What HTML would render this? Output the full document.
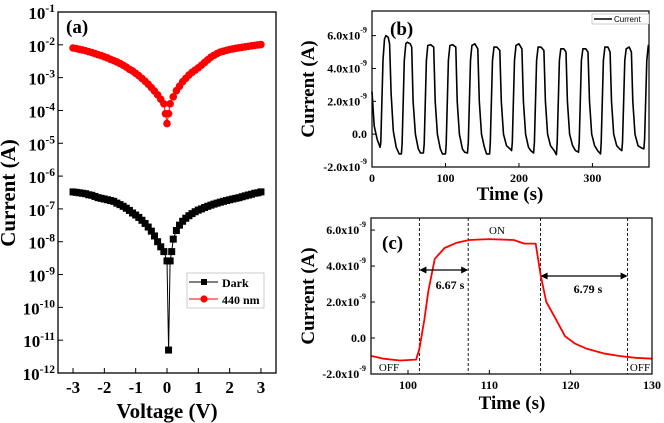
<!DOCTYPE html>
<html><head><meta charset="utf-8"><style>
html,body{margin:0;padding:0;background:#fff;}
svg{display:block;font-family:"Liberation Serif",serif;}
.tl{font-size:17px;font-weight:bold;}
.ts{font-size:12px;font-weight:bold;}
.tt{font-size:19px;font-weight:bold;}
.ta{font-size:21px;font-weight:bold;}
</style></head><body>
<svg id="fig" width="664" height="423" viewBox="0 0 664 423"></svg>
<script>
// ---- Panel (a) data ----
const darkV=[-3,-2.9,-2.8,-2.7,-2.6,-2.5,-2.4,-2.3,-2.2,-2.1,-2,-1.9,-1.8,-1.7,-1.6,-1.5,-1.4,-1.3,-1.2,-1.1,-1,-0.9,-0.8,-0.7,-0.6,-0.5,-0.4,-0.3,-0.2,-0.1,0,0.05,0.1,0.15,0.2,0.3,0.4,0.5,0.6,0.7,0.8,0.9,1,1.1,1.2,1.3,1.4,1.5,1.6,1.7,1.8,1.9,2,2.1,2.2,2.3,2.4,2.5,2.6,2.7,2.8,2.9,3];
const darkI=[3.3e-7,3.2e-7,3.1e-7,3.0e-7,2.9e-7,2.7e-7,2.6e-7,2.4e-7,2.2e-7,2.1e-7,2.0e-7,1.9e-7,1.8e-7,1.7e-7,1.5e-7,1.35e-7,1.2e-7,1.05e-7,9e-8,7.5e-8,6.5e-8,5.5e-8,4.5e-8,3.6e-8,2.8e-8,2.1e-8,1.5e-8,1.0e-8,7e-9,5e-9,2.6e-9,5e-12,2.6e-9,5e-9,1.2e-8,2.2e-8,3.2e-8,4.2e-8,5.2e-8,6.2e-8,7.2e-8,8.2e-8,9.2e-8,1.0e-7,1.1e-7,1.2e-7,1.3e-7,1.4e-7,1.5e-7,1.6e-7,1.7e-7,1.8e-7,1.9e-7,2.0e-7,2.1e-7,2.2e-7,2.35e-7,2.5e-7,2.65e-7,2.8e-7,3.0e-7,3.1e-7,3.3e-7];
const lightV=[-3,-2.9,-2.8,-2.7,-2.6,-2.5,-2.4,-2.3,-2.2,-2.1,-2,-1.9,-1.8,-1.7,-1.6,-1.5,-1.4,-1.3,-1.2,-1.1,-1,-0.9,-0.8,-0.7,-0.6,-0.5,-0.4,-0.3,-0.2,-0.1,-0.05,0,0.05,0.1,0.2,0.3,0.4,0.5,0.6,0.7,0.8,0.9,1,1.1,1.2,1.3,1.4,1.5,1.6,1.7,1.8,1.9,2,2.1,2.2,2.3,2.4,2.5,2.6,2.7,2.8,2.9,3];
const lightI=[8.0e-3,7.7e-3,7.3e-3,7.0e-3,6.6e-3,6.2e-3,5.8e-3,5.4e-3,5.0e-3,4.7e-3,4.3e-3,4.0e-3,3.6e-3,3.3e-3,3.0e-3,2.7e-3,2.4e-3,2.1e-3,1.8e-3,1.6e-3,1.35e-3,1.15e-3,9.5e-4,7.8e-4,6.3e-4,5.0e-4,3.9e-4,3.0e-4,2.2e-4,1.6e-4,8e-5,4e-5,8e-5,1.6e-4,2.6e-4,4.0e-4,5.5e-4,7.5e-4,9.5e-4,1.2e-3,1.45e-3,1.7e-3,2.0e-3,2.4e-3,2.9e-3,3.5e-3,4.2e-3,4.8e-3,5.4e-3,6.0e-3,6.4e-3,6.8e-3,7.2e-3,7.5e-3,7.8e-3,8.1e-3,8.4e-3,8.7e-3,9.0e-3,9.3e-3,9.6e-3,9.9e-3,1.02e-2];
const aXTicks=[-3,-2,-1,0,1,2,3];
const aYExps=[-1,-2,-3,-4,-5,-6,-7,-8,-9,-10,-11,-12];
// ---- Panel (b) data ----
const bT=[0,3,7,11,12,15,17,19,22,24,26,29,33,37,40,41,44,46,48,52,54,56,59,63,66,70,71,74,76,80,84,86,89,93,96,100,101,104,106,110,114,116,119,123,126,130,131,134,136,140,144,146,149,153,156,160,161,164,166,170,174,176,179,183,188,190,191,194,196,200,204,206,209,213,216,220,221,224,226,230,234,236,239,243,248,251,252,255,257,261,264,266,269,273,277,281,282,285,287,291,294,296,299,303,307,311,312,315,317,321,324,326,329,333,337,340,341,344,346,350,353,355,358,362,367,370,371,374,376,377];
const bI=[2.6,0.5,-0.3,-0.8,-0.5,4.5,5.8,6.0,5.9,5.5,2.5,0.2,-0.8,-1.2,-1.2,-0.6,4.5,5.5,5.6,5.5,5.3,2.0,0.0,-0.9,-1.15,-1.15,-0.6,4.5,5.4,5.45,5.3,2.0,0.0,-0.9,-1.2,-1.2,-0.6,4.5,5.4,5.45,5.3,2.0,0.0,-0.9,-1.1,-1.15,-0.5,4.5,5.4,5.5,5.2,2.0,0.0,-0.8,-1.2,-1.2,-0.5,4.5,5.3,5.3,5.1,2.0,0.0,-0.7,-0.9,-1.0,-0.5,4.5,5.4,5.5,5.2,2.0,0.0,-0.8,-1.0,-1.15,-0.5,4.5,5.3,5.3,5.1,2.0,0.0,-0.7,-1.0,-1.25,-0.5,4.5,5.2,5.2,5.0,2.0,0.0,-0.7,-1.0,-1.1,-0.5,4.5,5.2,5.2,5.0,2.0,0.0,-0.7,-1.0,-1.2,-0.5,4.5,5.3,5.3,5.0,2.0,0.0,-0.7,-0.9,-1.0,-0.5,4.5,5.2,5.3,5.0,2.0,0.0,-0.7,-0.85,-0.9,-0.3,4.5,5.4,5.4];
const bXTicks=[0,100,200,300];
const bYTicks=[6,4,2,0,-2];
const bYLabels=["6.0x10","4.0x10","2.0x10","0.0","-2.0x10"];
// ---- Panel (c) data ----
const cT=[95.5,97,99,101,101.4,102,102.5,103.3,104.5,106,107.5,110,113,114.3,115.7,116.3,117,118,119.3,120.5,122,124,126,128,130];
const cI=[-1.0,-1.15,-1.25,-1.2,-0.6,1.0,2.6,4.4,5.0,5.3,5.45,5.5,5.45,5.25,5.25,3.5,2.0,1.2,0.1,-0.3,-0.6,-0.85,-1.0,-1.1,-1.15];
const cDash=[101.4,107.4,116.3,127];
const cXTicks=[100,110,120,130];
const cYTicks=[6,4,2,0,-2];
const cYLabels=["6.0x10","4.0x10","2.0x10","0.0","-2.0x10"];

const NS="http://www.w3.org/2000/svg";
const svg=document.getElementById('fig');
function el(tag,attrs,parent){const e=document.createElementNS(NS,tag);for(const k in attrs)e.setAttribute(k,attrs[k]);(parent||svg).appendChild(e);return e;}
function txt(x,y,s,cls,anchor,parent){const t=el('text',{x:x,y:y,'class':cls,'text-anchor':anchor||'middle'},parent);t.textContent=s;return t;}
function sup(x,y,base,exp,cls,anchor,parent){const t=el('text',{x:x,y:y,'class':cls,'text-anchor':anchor||'end'},parent);t.appendChild(document.createTextNode(base));const s=document.createElementNS(NS,'tspan');s.setAttribute('dy','-7');s.setAttribute('font-size','0.68em');s.textContent=exp;t.appendChild(s);return t;}

// ===== Panel A =====
const gA=el('g',{});


const A={x0:58,x1:276,y0:12,y1:373,vmin:-3.48,vmax:3.48,emax:-1,emin:-12};
const ax=v=>A.x0+(v-A.vmin)/(A.vmax-A.vmin)*(A.x1-A.x0);
const ay=i=>A.y0+(A.emax-Math.log10(i))/(A.emax-A.emin)*(A.y1-A.y0);
aYExps.forEach(e=>{const y=ay(Math.pow(10,e));el('line',{x1:A.x0,x2:A.x0+5,y1:y,y2:y,stroke:'#000','stroke-width':1},gA);
  const t=sup(A.x0-3,y+7,'10',String(e),'tl','end',gA);});
aXTicks.forEach(v=>{const x=ax(v);el('line',{x1:x,x2:x,y1:A.y1,y2:A.y1-5,stroke:'#000'},gA);
  const t=txt(x,393,String(v),'tl','middle',gA);});
let d='';darkV.forEach((v,i)=>{d+=(i?'L':'M')+ax(v).toFixed(1)+','+ay(darkI[i]).toFixed(1);});
const dl=el('path',{d:d,fill:'none',stroke:'#000','stroke-width':1},gA);

darkV.forEach((v,i)=>{const r=el('rect',{x:ax(v)-3.5,y:ay(darkI[i])-3.5,width:7,height:7,fill:'#000'},gA);
  });
let d2='';lightV.forEach((v,i)=>{d2+=(i?'L':'M')+ax(v).toFixed(1)+','+ay(lightI[i]).toFixed(1);});
const ll=el('path',{d:d2,fill:'none',stroke:'#f00','stroke-width':1},gA);

lightV.forEach((v,i)=>{const c=el('circle',{cx:ax(v),cy:ay(lightI[i]),r:3.8,fill:'#f00'},gA);
  });
el('rect',{x:A.x0,y:A.y0,width:A.x1-A.x0,height:A.y1-A.y0,fill:'none',stroke:'#000','stroke-width':1.3},gA);
txt(66,33,'(a)','tt','start',gA);
const aty=txt(0,0,'Current (A)','ta','middle',gA);aty.setAttribute('transform','translate(15,193) rotate(-90)');

const atx=txt(167,418,'Voltage (V)','ta','middle',gA);
const lg=el('g',{},gA);
el('rect',{x:187,y:273,width:77,height:35,fill:'#fff',stroke:'#aaa','stroke-width':0.6},lg);
el('line',{x1:189,x2:218,y1:282,y2:282,stroke:'#000'},lg);el('rect',{x:201,y:279,width:6,height:6,fill:'#000'},lg);
el('line',{x1:189,x2:218,y1:299,y2:299,stroke:'#f00'},lg);el('circle',{cx:204,cy:299,r:3.6,fill:'#f00'},lg);
const le1=txt(222,287,'Dark','ts','start',lg);
const le2=txt(222,304,'440 nm','ts','start',lg);

// ===== Panel B =====
const gB=el('g',{});


const B={x0:372,x1:649,y0:11,y1:167,tmin:0,tmax:377,imin:-2,imax:7.5};
const bx=t=>B.x0+(t-B.tmin)/(B.tmax-B.tmin)*(B.x1-B.x0);
const by=i=>B.y1-(i-B.imin)/(B.imax-B.imin)*(B.y1-B.y0);
bYTicks.forEach((v,k)=>{const y=by(v);el('line',{x1:B.x0,x2:B.x0+4,y1:y,y2:y,stroke:'#000'},gB);
  const lab=bYLabels[k];const t=lab.indexOf('x10')>0?sup(B.x0-5,y+4,lab,'-9','ts','end',gB):txt(B.x0-5,y+4,lab,'ts','end',gB);
  });
bXTicks.forEach(v=>{const x=bx(v);el('line',{x1:x,x2:x,y1:B.y1,y2:B.y1-4,stroke:'#000'},gB);
  const t=txt(x,182,String(v),'ts','middle',gB);});
let db='';bT.forEach((t,i)=>{db+=(i?'L':'M')+bx(t).toFixed(1)+','+by(bI[i]).toFixed(1);});
const bl=el('path',{d:db,fill:'none',stroke:'#000','stroke-width':1.6,'stroke-linejoin':'round'},gB);

el('rect',{x:B.x0,y:B.y0,width:B.x1-B.x0,height:B.y1-B.y0,fill:'none',stroke:'#000','stroke-width':1.2},gB);
txt(390,35,'(b)','tt','start',gB);
el('rect',{x:592,y:14,width:57,height:10,fill:'#fff',stroke:'#999','stroke-width':0.5},gB);
el('line',{x1:594,x2:612,y1:19,y2:19,stroke:'#000','stroke-width':1.5},gB);
const ble=el('text',{x:614,y:22,'font-size':'8','text-anchor':'start','font-family':'Liberation Sans, sans-serif'},gB);ble.textContent='Current';

const bty=txt(0,0,'Current (A)','tt','middle',gB);bty.setAttribute('transform','translate(314,89) rotate(-90)');

const btx=txt(510,200,'Time (s)','tt','middle',gB);

// ===== Panel C =====
const gC=el('g',{});


const C={x0:371,x1:652,y0:218,y1:374,tmin:95.45,tmax:130,imin:-2,imax:6.67};
const cx=t=>C.x0+(t-C.tmin)/(C.tmax-C.tmin)*(C.x1-C.x0);
const cy=i=>C.y1-(i-C.imin)/(C.imax-C.imin)*(C.y1-C.y0);
cYTicks.forEach((v,k)=>{const y=cy(v);el('line',{x1:C.x0,x2:C.x0+4,y1:y,y2:y,stroke:'#000'},gC);
  const lab=cYLabels[k];const t=lab.indexOf('x10')>0?sup(C.x0-5,y+4,lab,'-9','ts','end',gC):txt(C.x0-5,y+4,lab,'ts','end',gC);
  });
cXTicks.forEach(v=>{const x=cx(v);el('line',{x1:x,x2:x,y1:C.y1,y2:C.y1-4,stroke:'#000'},gC);
  const t=txt(x,389,String(v),'ts','middle',gC);});
cDash.forEach(t=>{const l=el('line',{x1:cx(t),x2:cx(t),y1:C.y0,y2:C.y1,stroke:'#000','stroke-width':0.9,'stroke-dasharray':'3,2'},gC);
  });
let dc='';cT.forEach((t,i)=>{dc+=(i?'L':'M')+cx(t).toFixed(1)+','+cy(cI[i]).toFixed(1);});
const cl=el('path',{d:dc,fill:'none',stroke:'#f00','stroke-width':1.8,'stroke-linejoin':'round'},gC);

function arrow(t1,t2,y){const x1=cx(t1),x2=cx(t2);
  el('line',{x1:x1+5,x2:x2-5,y1:y,y2:y,stroke:'#000','stroke-width':1.2},gC);
  el('polygon',{points:`${x1},${y} ${x1+7},${y-3.5} ${x1+7},${y+3.5}`,fill:'#000'},gC);
  el('polygon',{points:`${x2},${y} ${x2-7},${y-3.5} ${x2-7},${y+3.5}`,fill:'#000'},gC);}
arrow(cDash[0],cDash[1],270);arrow(cDash[2],cDash[3],276);
txt(450,289,'6.67 s','ts','middle',gC);
txt(588,293,'6.79 s','ts','middle',gC);
const on=el('text',{x:497,y:234,'font-size':'11','text-anchor':'middle'},gC);on.textContent='ON';
const off1=el('text',{x:389,y:371,'font-size':'11','text-anchor':'middle'},gC);off1.textContent='OFF';
const off2=el('text',{x:640,y:371,'font-size':'11','text-anchor':'middle'},gC);off2.textContent='OFF';
el('rect',{x:C.x0,y:C.y0,width:C.x1-C.x0,height:C.y1-C.y0,fill:'none',stroke:'#000','stroke-width':1.2},gC);
txt(382,249,'(c)','tt','start',gC);
const cty=txt(0,0,'Current (A)','tt','middle',gC);cty.setAttribute('transform','translate(314,296) rotate(-90)');

const ctx=txt(512,409,'Time (s)','tt','middle',gC);
</script>
</body></html>
